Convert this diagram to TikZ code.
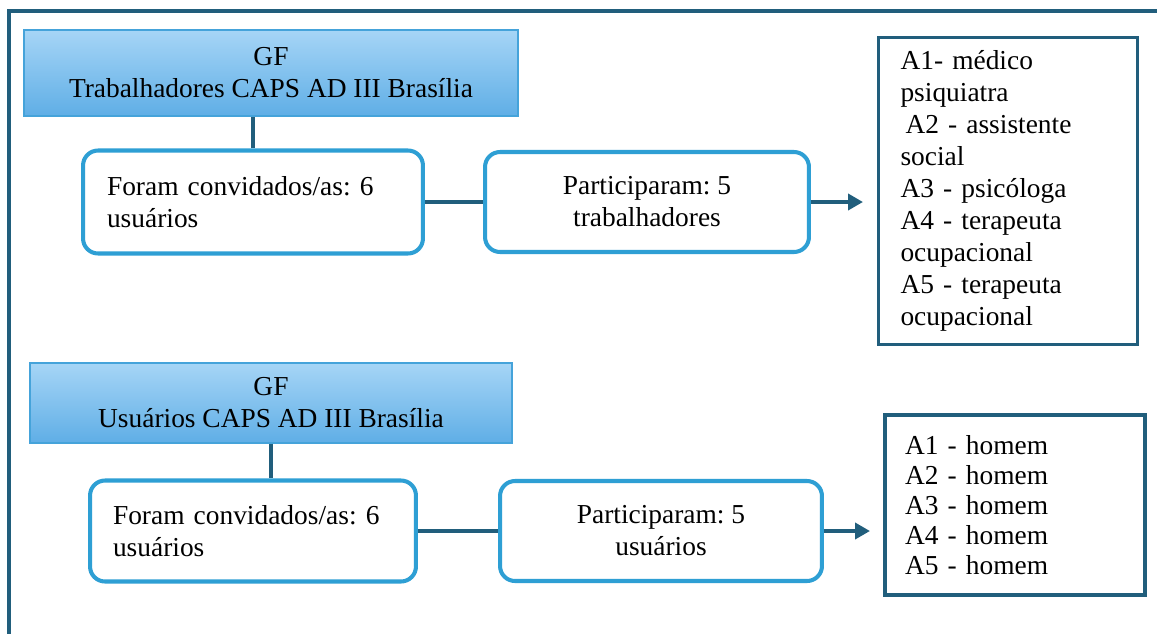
\documentclass[tikz,border=0pt]{standalone}
\usepackage{fontspec}
\setmainfont{Liberation Serif}
\usepackage{xcolor}
\usetikzlibrary{arrows.meta}

\definecolor{frameteal}{HTML}{215E7C}
\definecolor{boxblue}{HTML}{2E9FD4}
\definecolor{headtop}{HTML}{A6D5F6}
\definecolor{headbot}{HTML}{5FAEE6}
\definecolor{headline}{HTML}{45A3DA}

\tikzset{
  txt/.style={font=\fontsize{15.6}{18.2}\selectfont\frenchspacing},
  header/.style={txt, draw=headline, line width=0.8pt, top color=headtop, bottom color=headbot, align=center, inner sep=0pt},
  roundbox/.style={txt, draw=boxblue, line width=2.3pt, rounded corners=0.3cm, fill=white, inner sep=0pt},
  listbox/.style={txt, draw=frameteal, line width=2pt, fill=white, align=left, inner ysep=0pt},
  link/.style={draw=frameteal, line width=2.2pt},
  tip/.style={link, -{Triangle[length=0.3cm,width=0.32cm]}}
}

\begin{document}
\begin{tikzpicture}[x=0.02cm,y=-0.02cm]
        \useasboundingbox (0,0) rectangle (1157,633);
        \fill[white] (0,0) rectangle (1157,633);
        \draw[frameteal, line width=2.2pt] (1200,11) -- (9,11) -- (9,700);

        % trabalhadores
        \node[header, minimum width=9.88cm, minimum height=1.72cm] (head1) at (271,73) {GF\\Trabalhadores CAPS AD III Brasília};
        \node[roundbox, align=left, inner xsep=0.48cm, text width=5.84cm, minimum height=2.06cm] (conv1) at (253,202) {Foram convidados/as: 6\\usuários};
        \node[roundbox, align=center, minimum width=6.48cm, minimum height=2cm] (part1) at (647,202) {Participaram: 5\\trabalhadores};
        \node[listbox, inner xsep=0.44cm, text width=4.3cm, minimum height=6.14cm] (list1) at (1008,191) {A1- médico\\psiquiatra\\\hspace*{0.1cm}A2 - assistente\\social\\A3 - psicóloga\\A4 - terapeuta\\ocupacional\\A5 - terapeuta\\ocupacional};
        \coordinate (end1) at (863,202);
        \draw[link] (conv1.north) -- (conv1.north |- head1.south);
        \draw[link] (conv1.east) -- (part1.west);
        \draw[tip] (part1.east) -- (part1.east -| end1);

        % usuarios
        \node[header, minimum width=9.64cm, minimum height=1.6cm] (head2) at (271,403) {GF\\Usuários CAPS AD III Brasília};
        \node[roundbox, align=left, inner xsep=0.46cm, text width=5.6cm, minimum height=2.02cm] (conv2) at (253,531) {Foram convidados/as: 6\\usuários};
        \node[roundbox, align=center, minimum width=6.44cm, minimum height=2cm] (part2) at (661,531) {Participaram: 5\\usuários};
        \node[listbox, font=\fontsize{15.6}{17}\selectfont\frenchspacing, inner xsep=0.4cm, text width=4.4cm, minimum height=3.6cm] (list2) at (1015,505) {A1 - homem\\A2 - homem\\A3 - homem\\A4 - homem\\A5 - homem};
        \coordinate (end2) at (870,531);
        \draw[link] (head2.south) -- (head2.south |- conv2.north);
        \draw[link] (conv2.east) -- (part2.west);
        \draw[tip] (part2.east) -- (part2.east -| end2);
\end{tikzpicture}
\end{document}
